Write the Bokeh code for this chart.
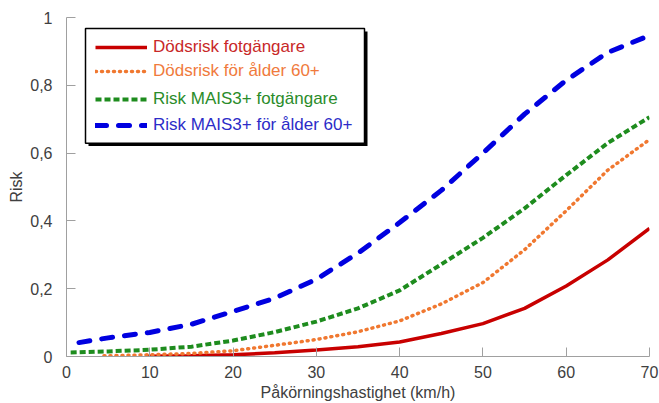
from bokeh.plotting import figure
from bokeh.models import (Range1d, FixedTicker, CustomJSTickFormatter, Legend,
                          LegendItem, BoxAnnotation)
from bokeh.embed import file_html
from bokeh.resources import INLINE

# ---- data ----
speed_red = [9.6, 15, 20, 25, 30, 35, 40, 45, 50, 55, 60, 65, 70]
death_all = [0.001, 0.002, 0.005, 0.011, 0.019, 0.029, 0.043, 0.068, 0.097, 0.142, 0.208, 0.285, 0.378]

speed_orange = [4.5, 10, 15, 20, 25, 30, 35, 40, 45, 50, 55, 60, 65, 70]
death_60 = [0.002, 0.005, 0.009, 0.017, 0.033, 0.050, 0.073, 0.105, 0.155, 0.218, 0.315, 0.430, 0.550, 0.640]

speed_green = [0.5, 5, 10, 15, 20, 25, 30, 35, 40, 45, 50, 55, 60, 65, 70]
mais_all = [0.012, 0.015, 0.020, 0.029, 0.047, 0.072, 0.103, 0.142, 0.195, 0.272, 0.350, 0.437, 0.535, 0.630, 0.706]

speed_blue = [1.5, 5, 10, 15, 20, 25, 30, 35, 40, 45, 50, 55, 60, 65, 70]
mais_60 = [0.041, 0.055, 0.071, 0.095, 0.133, 0.172, 0.228, 0.305, 0.395, 0.490, 0.600, 0.715, 0.815, 0.897, 0.947]

labels = ["Dödsrisk fotgängare", "Dödsrisk för ålder 60+",
          "Risk MAIS3+ fotgängare", "Risk MAIS3+ för ålder 60+"]
x_ticks = [0, 10, 20, 30, 40, 50, 60, 70]
y_ticks = [0, 0.2, 0.4, 0.6, 0.8, 1.0]

FONT = "Liberation Sans"
TXT = "#404040"
AXC = "#a0a0a0"

# frame edges in figure pixels
FL, FR, FT, FB = 66, 649, 17, 357
W, H = 659, 403

p = figure(width=W, height=H, output_backend="svg", toolbar_location=None,
           x_range=Range1d(0, 70), y_range=Range1d(0, 1),
           min_border_left=FL, min_border_right=W - FR,
           min_border_top=FT, min_border_bottom=H - FB)
p.outline_line_color = None
p.grid.visible = False
p.background_fill_color = "white"
p.border_fill_color = "white"

for ax in (p.xaxis[0], p.yaxis[0]):
    ax.axis_line_color = AXC
    ax.major_tick_line_color = AXC
    ax.minor_tick_line_color = None
    ax.major_tick_in = 9
    ax.major_tick_out = 0
    ax.major_label_text_font = FONT
    ax.major_label_text_font_size = "16px"
    ax.major_label_text_color = TXT
    ax.axis_label_text_font = FONT
    ax.axis_label_text_font_size = "16px"
    ax.axis_label_text_font_style = "normal"
    ax.axis_label_text_color = TXT

p.xaxis.ticker = FixedTicker(ticks=x_ticks)
p.yaxis.ticker = FixedTicker(ticks=y_ticks)
p.yaxis.formatter = CustomJSTickFormatter(code="return String(Math.round(tick*10)/10).replace('.', ',');")
p.xaxis.major_label_standoff = 9
p.yaxis.major_label_standoff = 14
p.xaxis.axis_label = "Påkörningshastighet (km/h)"
p.yaxis.axis_label = "Risk"
p.xaxis.axis_label_standoff = 3
p.yaxis.axis_label_standoff = 2

r1 = p.line(speed_red, death_all, line_color="#c80000", line_width=3.5)
r2 = p.line(speed_orange, death_60, line_color="#f07830", line_width=3.5,
            line_dash="1 5", line_cap="round")
r3 = p.line(speed_green, mais_all, line_color="#1e8c1e", line_width=4,
            line_dash="6 3")
r4 = p.line(speed_blue, mais_60, line_color="#0000e0", line_width=5,
            line_dash="11 12", line_cap="round")

# legend frame with shadow (positions in data units of the plot frame)
def px_x(px):
    return (px - FL) / (FR - FL) * 70

def px_y(py):
    return (FB - py) / (FB - FT)

p.add_layout(BoxAnnotation(left=px_x(88), right=px_x(367), top=px_y(31), bottom=px_y(146),
                           fill_color="black", fill_alpha=1, line_color=None))
p.add_layout(BoxAnnotation(left=px_x(85), right=px_x(364), top=px_y(28), bottom=px_y(143),
                           fill_color="white", fill_alpha=1, line_color="black",
                           line_width=1.5, line_alpha=1))

text_colors = ["#c82828", "#f07a3c", "#2a8c2a", "#2c2cc8"]
rows = [48, 72, 100, 126]
for r, lab, col, cy in zip([r1, r2, r3, r4], labels, text_colors, rows):
    leg = Legend(items=[LegendItem(label=lab, renderers=[r])],
                 location=(95 - FL, FB - (cy + 10)),
                 glyph_width=52, glyph_height=20, label_height=20,
                 label_standoff=6, padding=0, margin=0, spacing=0,
                 border_line_alpha=0, background_fill_alpha=0,
                 label_text_font=FONT, label_text_font_size="17px",
                 label_text_color=col)
    p.add_layout(leg)

open("out.html", "w").write(file_html(p, INLINE))
